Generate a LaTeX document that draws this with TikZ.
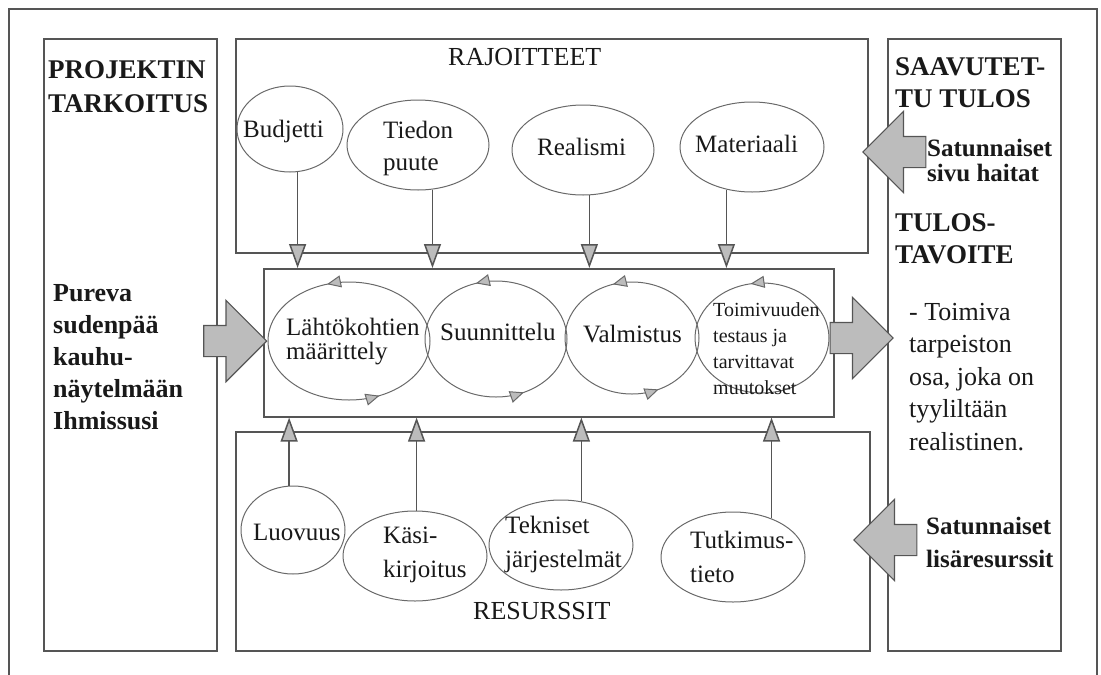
\documentclass[tikz,border=0pt]{standalone}
\usepackage{fontspec}
\setmainfont{Liberation Serif}
\usetikzlibrary{positioning,shapes,arrows.meta,decorations.markings}

\definecolor{linegray}{RGB}{85,85,85}
\definecolor{ovalgray}{RGB}{105,105,105}
\definecolor{fillgray}{RGB}{188,188,188}
\definecolor{ink}{RGB}{25,25,25}

\tikzset{
  smalltip/.tip={Triangle[length=14pt,width=12pt,fill=fillgray]},
  flowtip/.tip={Triangle[length=24pt,width=17pt,fill=fillgray]},
}

\begin{document}
\begin{tikzpicture}[
  x=1pt, y=-1pt,
  panel/.style 2 args={draw=linegray,line width=1.6pt,minimum width=#1,minimum height=#2,anchor=north west,inner sep=0pt},
  oval/.style 2 args={ellipse,draw=ovalgray,line width=1pt,minimum width=#1,minimum height=#2,inner sep=0pt},
  spin/.style={postaction={decorate,decoration={markings,
      mark=at position 0.3 with {\arrow{smalltip}},
      mark=at position 0.82 with {\arrow{smalltip}}}}},
  halfspin/.style={postaction={decorate,decoration={markings,
      mark=at position 0.28 with {\arrow{smalltip}}}}},
  txt/.style={text=ink,inner sep=0pt,align=left,anchor=base west,font=\fontsize{25}{#1}\selectfont},
  txt/.default=32,
  btxt/.style={text=ink,inner sep=0pt,align=left,anchor=base west,font=\fontsize{26}{#1}\selectfont\bfseries},
  btxt/.default=32,
  flow/.style={draw=linegray,line width=1.5pt,-flowtip},
  bigarrow/.style={single arrow,draw=linegray,fill=fillgray,line width=1.2pt,
    inner xsep=0pt,inner ysep=15pt,single arrow head extend=25pt,minimum height=63pt},
]
\useasboundingbox (0,0) rectangle (1101,675);

\draw[linegray,line width=1.6pt] (9,680) -- (9,9) -- (1097,9) -- (1097,680);

\node[panel={173}{612}] (purpose) at (43,38) {};
\node[panel={632}{214}] (limits) at (235,38) {};
\node[panel={570}{148}] (process) at (263,268) {};
\node[panel={634}{219}] (resources) at (235,431) {};
\node[panel={173}{612}] (result) at (887,38) {};

% multi-line texts sit on the baseline of their last line
\node[btxt,font=\fontsize{27}{34}\selectfont\bfseries] (purposetitle) at (48,112) {PROJEKTIN\\TARKOITUS};
\node[btxt] (purposetext) at (53,429) {Pureva\\sudenpää\\kauhu-\\näytelmään\\Ihmissusi};
\node[txt,font=\fontsize{26}{32}\selectfont] (limitstitle) at (448,65) {RAJOITTEET};
\node[txt,font=\fontsize{26}{32}\selectfont] (resourcestitle) at (473,619) {RESURSSIT};
\node[btxt,font=\fontsize{27}{32}\selectfont\bfseries] (resulttitle) at (895,107) {SAAVUTET-\\TU TULOS};
\node[btxt,font=\fontsize{27}{32}\selectfont\bfseries] (goaltitle) at (895,263) {TULOS-\\TAVOITE};
\node[txt,font=\fontsize{26}{32.5}\selectfont] (goaltext) at (909,450) {- Toimiva\\tarpeiston\\osa, joka on\\tyyliltään\\realistinen.};
\node[btxt,font=\fontsize{25}{25}\selectfont\bfseries] (hindertext) at (927,181) {Satunnaiset\\sivu haitat};
\node[btxt,font=\fontsize{25}{33}\selectfont\bfseries] (extratext) at (926,567) {Satunnaiset\\lisäresurssit};

\node[oval={106}{86}] (budget) at (290,129) {};
\node[oval={142}{90}] (knowledge) at (418,145) {};
\node[oval={142}{90}] (realism) at (583,150) {};
\node[oval={144}{90}] (material) at (752,147) {};
\node[txt] (budgett) at (243,137) {Budjetti};
\node[txt] (knowledget) at (383,170) {Tiedon\\puute};
\node[txt] (realismt) at (537,155) {Realismi};
\node[txt] (materialt) at (695,152) {Materiaali};

\node[oval={162}{118},spin] (start) at (349,341) {};
\node[oval={142}{116},spin] (design) at (496,339) {};
\node[oval={134}{112},spin] (make) at (632,338) {};
\node[oval={134}{110},halfspin] (test) at (762,338) {};
\node[txt=24] (startt) at (286,359) {Lähtökohtien\\määrittely};
\node[txt] (designt) at (440,340) {Suunnittelu};
\node[txt] (maket) at (583,342) {Valmistus};
\node[txt,font=\fontsize{20}{26}\selectfont] (testt) at (713,394) {Toimivuuden\\testaus ja\\tarvittavat\\muutokset};

\node[oval={104}{88}] (creativity) at (293,530) {};
\node[oval={144}{90}] (script) at (415,556) {};
\node[oval={144}{90}] (systems) at (561,545) {};
\node[oval={144}{90}] (research) at (733,557) {};
\node[txt] (creativityt) at (253,540) {Luovuus};
\node[txt=34] (scriptt) at (383,577) {Käsi-\\kirjoitus};
\node[txt=34] (systemst) at (505,567) {Tekniset\\järjestelmät};
\node[txt=34] (researcht) at (690,582) {Tutkimus-\\tieto};

\node[bigarrow,anchor=tip] (inarrow) at (start.west) {};
\node[bigarrow,anchor=tail] (outarrow) at (test.east) {};
\node[bigarrow,shape border rotate=180,anchor=tip] (hinder) at (862,152) {};
\node[bigarrow,shape border rotate=180,anchor=tip] (extra) at (853,540) {};

\draw[flow] (budget.-80) -- (budget.-80 |- process.north);
\draw[flow] (knowledge.-72) -- (knowledge.-72 |- process.north);
\draw[flow] (realism.-82) -- (realism.-82 |- process.north);
\draw[flow] (material.-121) -- (material.-121 |- process.north);

\draw[flow] (creativity.95) -- (creativity.95 |- process.south);
\draw[flow] (script.88) -- (script.88 |- process.south);
\draw[flow] (systems.65) -- (systems.65 |- process.south);
\draw[flow] (research.45) -- (research.45 |- process.south);
\end{tikzpicture}
\end{document}
